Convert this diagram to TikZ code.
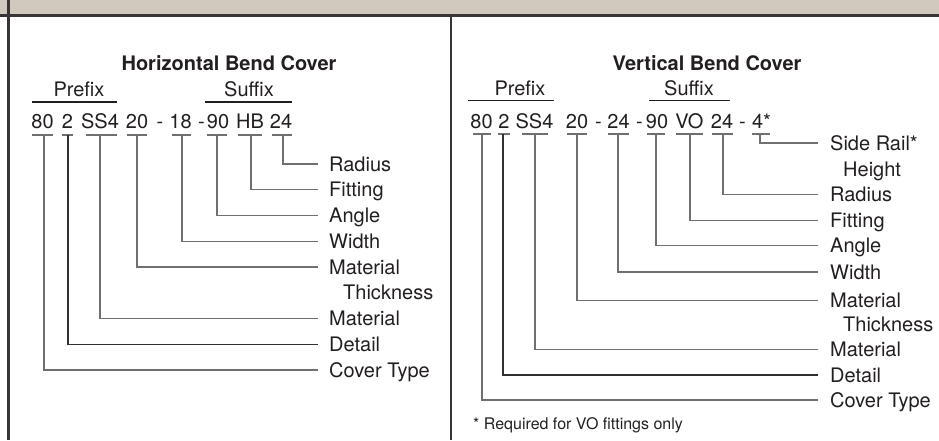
\documentclass[tikz,border=0pt]{standalone}
\usepackage{fontspec}
\setmainfont{TeX Gyre Heros}
\definecolor{band}{HTML}{D1C9BD}
\definecolor{ink}{HTML}{231F20}
\definecolor{leadc}{HTML}{707070}
\definecolor{darklead}{HTML}{303030}
\begin{document}
\begin{tikzpicture}[x=1pt,y=-1pt,
  code/.style={anchor=base, inner sep=0pt, font=\fontsize{20}{24}\selectfont, text=ink},
  head/.style={anchor=base, inner sep=0pt, font=\fontsize{20}{24}\selectfont\bfseries, text=ink},
  lab/.style={anchor=west, inner sep=0pt, text height=14.3pt, text depth=0pt, font=\fontsize{20}{24}\selectfont, text=ink},
  foot/.style={anchor=base west, inner sep=0pt, font=\fontsize{16}{19}\selectfont, text=ink},
  rule/.style={draw=ink, line width=1.2pt},
  uline/.style={draw=leadc, line width=1.3pt},
  leadline/.style={line width=1.2pt}]
\useasboundingbox (0,0) rectangle (939,440);
% header band and frame
\fill[band] (0,0) rectangle (939,14);
\draw[draw=ink!90, line width=2.6pt] (0,15.2) -- (939,15.2);
\draw[draw=ink!90, line width=3pt] (8.5,0) -- (8.5,440);
\draw[draw=ink!90, line width=2.2pt] (451,15) -- (451,440);

% ===== Left panel =====
\node[head] (Ltitle) at (229,70) {Horizontal Bend Cover};
\node[code] (Lpre) at (79,96) {Prefix};
\node[code] (Lsuf) at (249,96) {Suffix};
\draw[rule] (32,102) -- (117,102);
\draw[rule] (205,102) -- (292,102);
\foreach \n/\t/\cx in {a/80/42.5, b/2/67.5, c/SS4/100, d/20/137, e/-/160, f/18/180.5, g/-/201.5, h/90/218, i/HB/250, j/24/281}
  \node[code] (L\n) at (\cx,128) {\t};
\foreach \n/\xa/\xb/\vx/\ly/\col/\txt in {
  a/32/53/44/370/leadc/Cover Type,
  b/62/73/68/344.3/darklead/Detail,
  c/86/117/100/318.5/leadc/Material,
  d/127/147/137/267/leadc/Material,
  f/172/191/182/241.3/leadc/Width,
  h/207/227/217/215.5/leadc/Angle,
  i/238/262/251/189.8/leadc/Fitting,
  j/272/292/283/164/leadc/Radius} {
  \coordinate (LU\n) at (\vx,135);
  \node[lab] (LT\n) at (329,\ly) {\txt};
  \draw[uline] (\xa,135) -- (\xb,135);
  \draw[leadline, draw=\col] (LU\n) |- ([xshift=-11pt]LT\n.west);
}
\node[lab] (LTd2) at (343,292.8) {Thickness};

% ===== Right panel =====
\node[head] (Rtitle) at (707,70) {Vertical Bend Cover};
\node[code] (Rpre) at (520,95) {Prefix};
\node[code] (Rsuf) at (689,95) {Suffix};
\draw[rule] (468,100.5) -- (554,100.5);
\draw[rule] (649,100.5) -- (730,100.5);
\foreach \n/\t/\cx in {a/80/481.5, b/2/504, c/SS4/534.5, d/20/577, e/-/598.5, f/24/618.5, g/-/639.5, h/90/657, i/VO/689.5, j/24/722, k/-/742.5, m/4*/761.5}
  \node[code] (R\n) at (\cx,128) {\t};
\foreach \n/\xa/\xb/\vx/\ly/\col/\txt in {
  a/473/491/482/400/leadc/Cover Type,
  b/498/510/503/375/darklead/Detail,
  c/522/548/535/349.5/leadc/Material,
  d/567/587/577/300.5/leadc/Material,
  f/608/629/618/272/leadc/Width,
  h/647/665/656/245.5/leadc/Angle,
  i/676/703/690/220.5/leadc/Fitting,
  j/712/733/723/194.5/leadc/Radius,
  m/752/770/760/143/leadc/Side Rail*} {
  \coordinate (RU\n) at (\vx,134);
  \node[lab] (RT\n) at (830,\ly) {\txt};
  \draw[uline] (\xa,134) -- (\xb,134);
  \draw[leadline, draw=\col] (RU\n) |- ([xshift=-12pt]RT\n.west);
}
\node[lab] (RTm2) at (843,169) {Height};
\node[lab] (RTd2) at (843,324) {Thickness};
\node[foot] (Rfoot) at (473,429) {* Required for VO fittings only};
\end{tikzpicture}
\end{document}
